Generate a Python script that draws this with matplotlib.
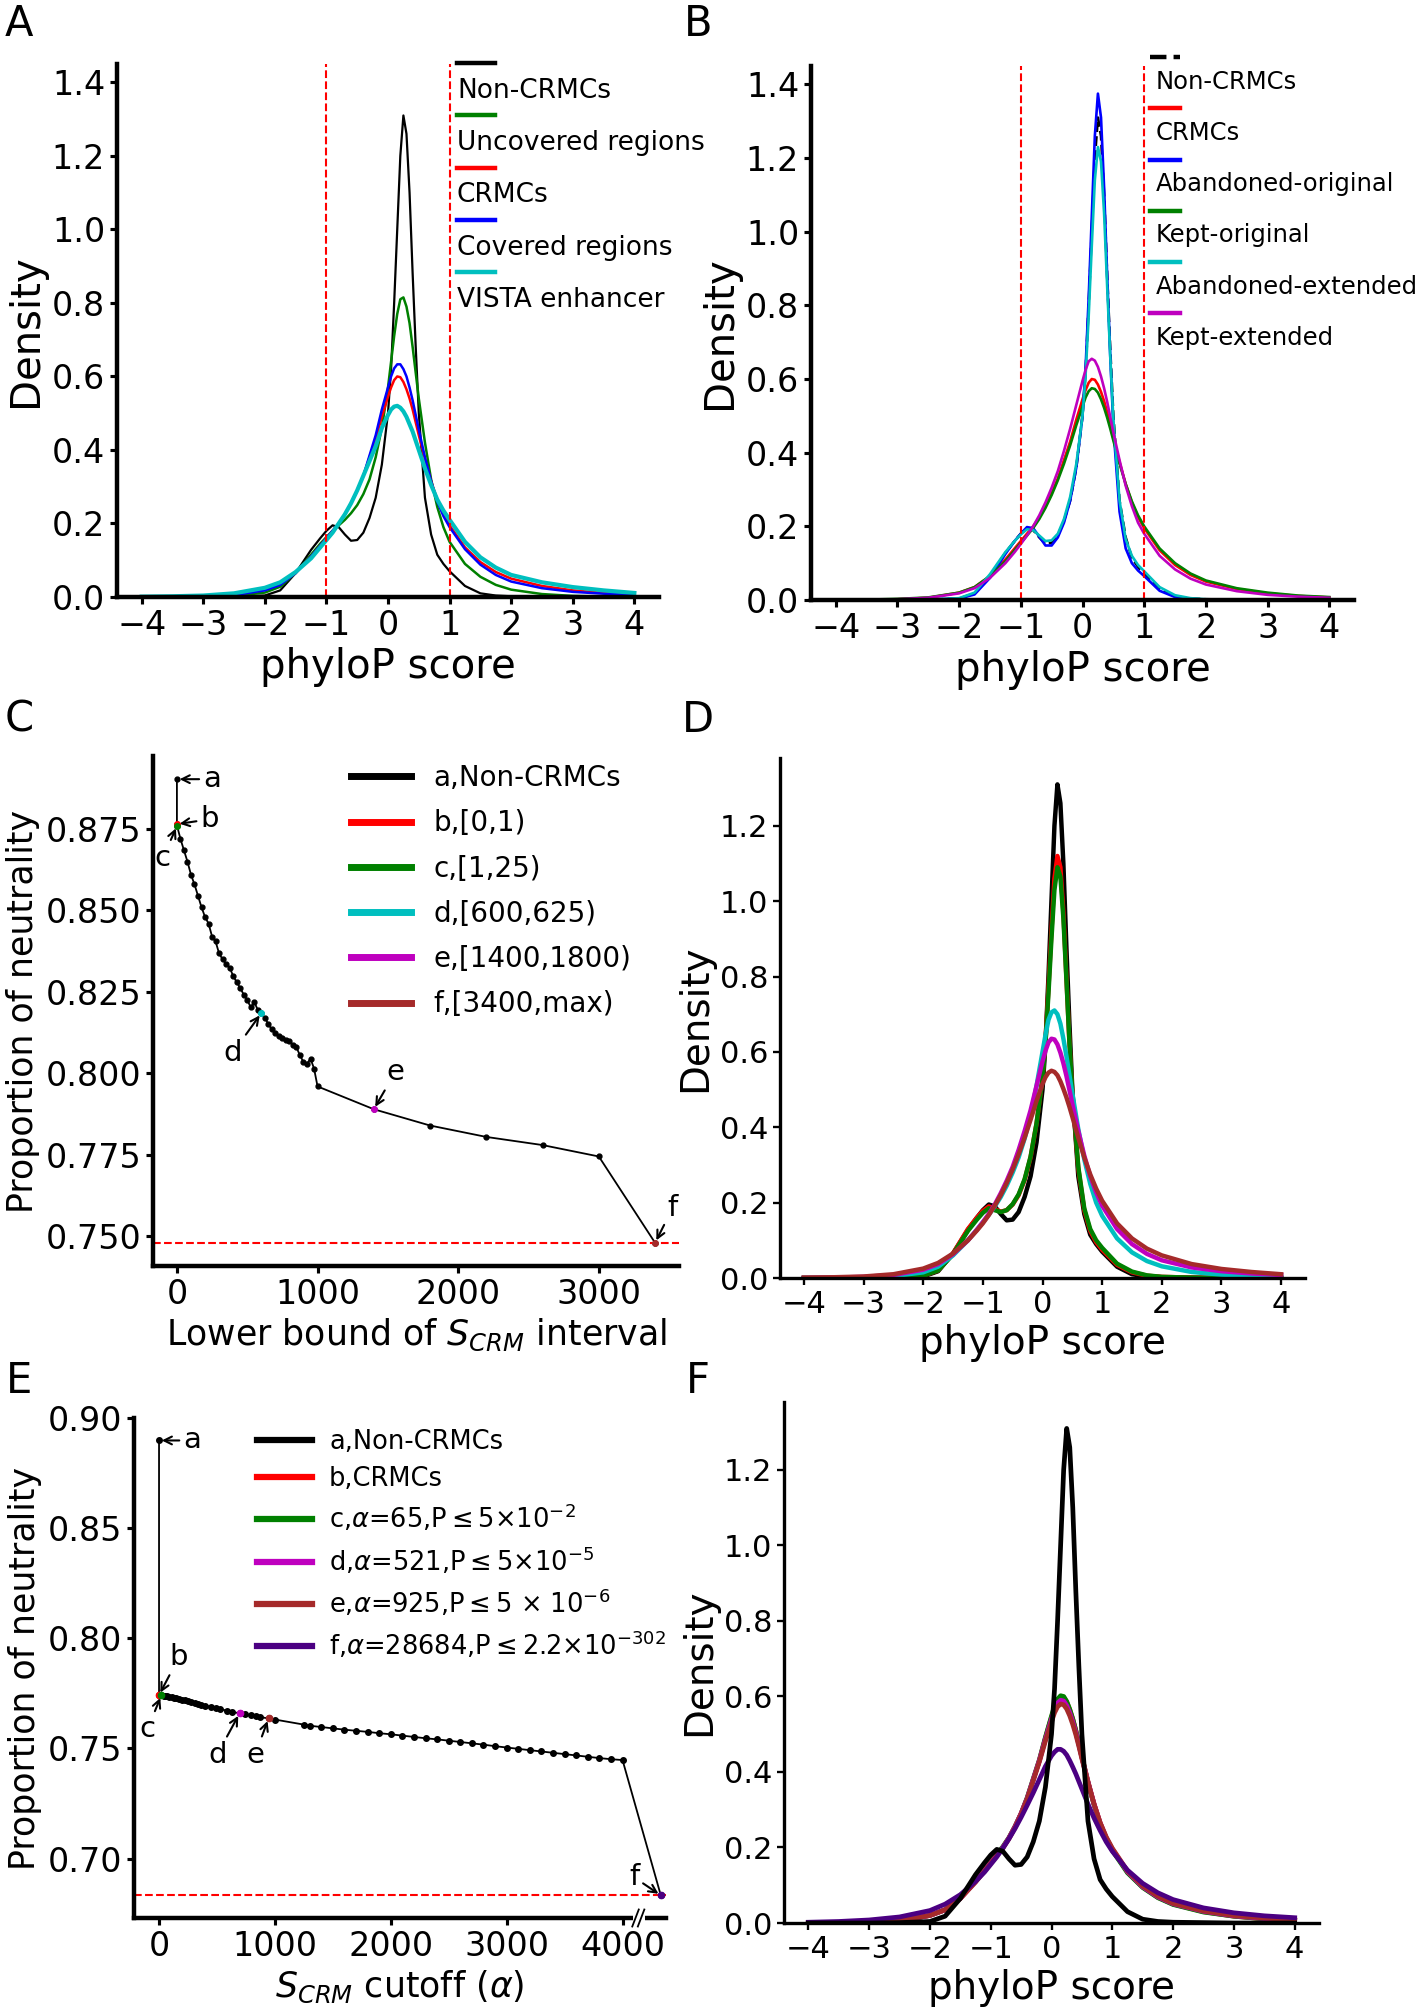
import numpy as np
import matplotlib
matplotlib.use('Agg')
import matplotlib.pyplot as plt
import matplotlib.transforms as mtransforms
from matplotlib.lines import Line2D
from matplotlib.legend_handler import HandlerLine2D

# phyloP grid shared by all density curves
phylop = [-4, -3.5, -3, -2.5, -2, -1.75, -1.5, -1.25, -1.1, -1, -0.9, -0.8, -0.7, -0.6, -0.5,
          -0.4, -0.3, -0.2, -0.1, 0, 0.05, 0.1, 0.15, 0.2, 0.25, 0.3, 0.35, 0.4, 0.45, 0.5,
          0.6, 0.7, 0.8, 0.9, 1, 1.25, 1.5, 1.75, 2, 2.5, 3, 3.5, 4]

# panel A
non_crmc = [0, 0, 0, 0.001, 0.004, 0.018, 0.065, 0.128, 0.16, 0.18, 0.195, 0.19, 0.17, 0.153, 0.155,
            0.175, 0.215, 0.27, 0.36, 0.5, 0.62, 0.8, 1.0, 1.2, 1.31, 1.26, 1.1, 0.88, 0.68, 0.5,
            0.27, 0.17, 0.115, 0.09, 0.07, 0.03, 0.01, 0.004, 0.002, 0.001, 0, 0, 0]
crmc = [0, 0.001, 0.002, 0.006, 0.02, 0.035, 0.065, 0.11, 0.14, 0.16, 0.18, 0.2, 0.225, 0.255, 0.29,
        0.33, 0.38, 0.43, 0.49, 0.545, 0.57, 0.59, 0.6, 0.598, 0.585, 0.565, 0.54, 0.51, 0.475, 0.44,
        0.375, 0.315, 0.265, 0.225, 0.195, 0.135, 0.095, 0.068, 0.05, 0.03, 0.018, 0.011, 0.007]
uncovered = [0, 0, 0.001, 0.003, 0.012, 0.028, 0.065, 0.115, 0.145, 0.163, 0.18, 0.195, 0.21, 0.228, 0.25,
             0.28, 0.32, 0.38, 0.46, 0.57, 0.64, 0.71, 0.77, 0.81, 0.815, 0.79, 0.745, 0.68, 0.61, 0.54,
             0.42, 0.32, 0.245, 0.19, 0.15, 0.09, 0.055, 0.033, 0.02, 0.008, 0.003, 0.001, 0]
covered = [0, 0.001, 0.002, 0.005, 0.018, 0.033, 0.065, 0.11, 0.14, 0.16, 0.18, 0.2, 0.225, 0.255, 0.29,
           0.33, 0.385, 0.44, 0.51, 0.57, 0.6, 0.622, 0.633, 0.633, 0.62, 0.6, 0.57, 0.535, 0.495, 0.455,
           0.38, 0.315, 0.26, 0.22, 0.19, 0.13, 0.088, 0.06, 0.042, 0.024, 0.014, 0.009, 0.006]
vista = [0.001, 0.002, 0.004, 0.01, 0.025, 0.04, 0.068, 0.105, 0.135, 0.155, 0.175, 0.2, 0.225, 0.255, 0.29,
         0.33, 0.37, 0.41, 0.46, 0.495, 0.51, 0.518, 0.52, 0.515, 0.505, 0.49, 0.47, 0.45, 0.425, 0.4,
         0.35, 0.305, 0.265, 0.235, 0.21, 0.15, 0.108, 0.08, 0.06, 0.04, 0.027, 0.018, 0.011]

# panel B
aband_orig = [0, 0, 0, 0.001, 0.004, 0.015, 0.06, 0.125, 0.16, 0.18, 0.198, 0.195, 0.172, 0.148, 0.148,
              0.17, 0.21, 0.27, 0.36, 0.5, 0.63, 0.82, 1.04, 1.26, 1.375, 1.31, 1.12, 0.88, 0.66, 0.47,
              0.24, 0.14, 0.1, 0.08, 0.065, 0.025, 0.008, 0.003, 0.001, 0, 0, 0, 0]
kept_orig = [0, 0.001, 0.003, 0.007, 0.02, 0.035, 0.065, 0.105, 0.135, 0.155, 0.175, 0.195, 0.22, 0.25, 0.285,
             0.325, 0.37, 0.42, 0.475, 0.525, 0.55, 0.567, 0.575, 0.573, 0.563, 0.545, 0.522, 0.495, 0.465, 0.433,
             0.37, 0.315, 0.268, 0.23, 0.2, 0.14, 0.1, 0.072, 0.053, 0.032, 0.02, 0.012, 0.008]
aband_ext = [0, 0, 0, 0.001, 0.005, 0.02, 0.07, 0.13, 0.16, 0.178, 0.192, 0.19, 0.175, 0.16, 0.162,
             0.18, 0.22, 0.28, 0.37, 0.5, 0.61, 0.77, 0.96, 1.14, 1.23, 1.19, 1.05, 0.85, 0.66, 0.49,
             0.27, 0.165, 0.12, 0.095, 0.078, 0.035, 0.013, 0.005, 0.002, 0.001, 0, 0, 0]
kept_ext = [0, 0.001, 0.002, 0.006, 0.018, 0.032, 0.06, 0.1, 0.13, 0.152, 0.175, 0.2, 0.23, 0.265, 0.305,
            0.35, 0.405, 0.465, 0.53, 0.595, 0.625, 0.648, 0.655, 0.65, 0.633, 0.607, 0.575, 0.538, 0.497, 0.455,
            0.38, 0.31, 0.255, 0.21, 0.18, 0.12, 0.083, 0.058, 0.042, 0.024, 0.014, 0.009, 0.006]

# panel D (S_CRM intervals)
s_0_1 = [0, 0, 0.001, 0.002, 0.006, 0.02, 0.065, 0.13, 0.16, 0.178, 0.19, 0.183, 0.176, 0.18, 0.195,
         0.22, 0.26, 0.32, 0.41, 0.53, 0.63, 0.77, 0.92, 1.06, 1.12, 1.09, 0.97, 0.8, 0.63, 0.49,
         0.29, 0.18, 0.125, 0.095, 0.075, 0.035, 0.015, 0.006, 0.003, 0.001, 0, 0, 0]
s_1_25 = [0, 0, 0.001, 0.002, 0.006, 0.02, 0.063, 0.125, 0.155, 0.173, 0.185, 0.18, 0.175, 0.18, 0.196,
          0.222, 0.262, 0.322, 0.41, 0.53, 0.625, 0.755, 0.9, 1.03, 1.09, 1.065, 0.955, 0.795, 0.63, 0.49,
          0.295, 0.185, 0.13, 0.1, 0.08, 0.038, 0.017, 0.007, 0.003, 0.001, 0, 0, 0]
s_600 = [0, 0.001, 0.002, 0.005, 0.015, 0.03, 0.06, 0.1, 0.128, 0.148, 0.168, 0.19, 0.215, 0.245, 0.28,
         0.32, 0.37, 0.43, 0.51, 0.6, 0.645, 0.685, 0.705, 0.71, 0.7, 0.675, 0.635, 0.59, 0.54, 0.49,
         0.395, 0.315, 0.25, 0.2, 0.165, 0.105, 0.068, 0.045, 0.031, 0.016, 0.009, 0.005, 0.003]
s_1400 = [0, 0.001, 0.003, 0.008, 0.022, 0.037, 0.063, 0.1, 0.128, 0.148, 0.17, 0.195, 0.225, 0.258, 0.295,
          0.34, 0.39, 0.445, 0.51, 0.575, 0.603, 0.625, 0.635, 0.633, 0.62, 0.598, 0.57, 0.537, 0.5, 0.462,
          0.39, 0.325, 0.27, 0.227, 0.192, 0.13, 0.09, 0.064, 0.047, 0.028, 0.018, 0.012, 0.008]
s_3400 = [0.001, 0.002, 0.004, 0.01, 0.025, 0.04, 0.065, 0.1, 0.126, 0.145, 0.167, 0.192, 0.22, 0.252, 0.288,
          0.328, 0.372, 0.42, 0.47, 0.515, 0.533, 0.545, 0.55, 0.547, 0.538, 0.522, 0.502, 0.48, 0.455, 0.428,
          0.372, 0.32, 0.275, 0.237, 0.205, 0.145, 0.105, 0.078, 0.06, 0.037, 0.024, 0.016, 0.01]

# panel F (S_CRM cutoffs)
cut_65 = [0, 0.001, 0.002, 0.006, 0.02, 0.035, 0.066, 0.112, 0.142, 0.162, 0.182, 0.202, 0.226, 0.256, 0.29,
          0.332, 0.382, 0.432, 0.492, 0.548, 0.575, 0.593, 0.602, 0.6, 0.587, 0.566, 0.54, 0.51, 0.475, 0.44,
          0.373, 0.313, 0.262, 0.222, 0.192, 0.133, 0.094, 0.067, 0.049, 0.029, 0.018, 0.011, 0.007]
cut_521 = [0, 0.001, 0.002, 0.006, 0.02, 0.035, 0.065, 0.11, 0.14, 0.16, 0.18, 0.2, 0.225, 0.255, 0.29,
           0.33, 0.38, 0.43, 0.487, 0.54, 0.566, 0.583, 0.59, 0.588, 0.576, 0.557, 0.533, 0.505, 0.472, 0.438,
           0.373, 0.315, 0.265, 0.226, 0.196, 0.136, 0.096, 0.069, 0.051, 0.031, 0.019, 0.012, 0.008]
cut_925 = [0, 0.001, 0.002, 0.006, 0.02, 0.035, 0.065, 0.108, 0.138, 0.158, 0.178, 0.198, 0.223, 0.253, 0.288,
           0.328, 0.377, 0.427, 0.482, 0.533, 0.557, 0.573, 0.58, 0.578, 0.567, 0.549, 0.526, 0.499, 0.468, 0.435,
           0.372, 0.315, 0.266, 0.228, 0.198, 0.138, 0.098, 0.071, 0.052, 0.032, 0.02, 0.013, 0.008]
cut_28684 = [0.002, 0.004, 0.008, 0.016, 0.033, 0.05, 0.075, 0.11, 0.135, 0.155, 0.175, 0.198, 0.223, 0.25, 0.28,
             0.312, 0.345, 0.38, 0.415, 0.443, 0.453, 0.46, 0.46, 0.455, 0.445, 0.43, 0.413, 0.395, 0.375, 0.355,
             0.315, 0.278, 0.245, 0.215, 0.19, 0.14, 0.105, 0.08, 0.062, 0.04, 0.027, 0.019, 0.014]

# panel C: lower bound of S_CRM interval vs proportion of neutrality
c_bound = [0, 0, 1, 25, 50, 75, 100, 125, 150, 175, 200, 225, 250, 275, 300, 325, 350, 375, 400, 425,
           450, 475, 500, 525, 550, 575, 600, 625, 650, 675, 700, 725, 750, 775, 800, 825, 850, 875, 900,
           925, 950, 975, 1000, 1400, 1800, 2200, 2600, 3000, 3400]
c_neutral = [0.8903, 0.8765, 0.876, 0.872, 0.8685, 0.865, 0.861, 0.858, 0.8545, 0.851, 0.848, 0.846, 0.842,
             0.8405, 0.8368, 0.835, 0.8335, 0.8325, 0.8299, 0.828, 0.8262, 0.8242, 0.8225, 0.8203, 0.8219,
             0.8195, 0.8185, 0.8171, 0.8151, 0.8135, 0.8125, 0.8115, 0.811, 0.8102, 0.8098, 0.8088, 0.808,
             0.8055, 0.8035, 0.803, 0.8045, 0.8015, 0.796, 0.789, 0.784, 0.7805, 0.778, 0.7745, 0.748]

# panel E: S_CRM cutoff vs proportion of neutrality
e_cutoff = [0, 0, 20, 40, 55, 70, 90, 110, 130, 150, 175, 200, 225, 250, 280, 310, 335, 360, 400, 445,
            490, 530, 590, 630, 695, 745, 790, 835, 875, 945, 1000, 1250, 1300, 1400, 1500, 1600, 1700,
            1800, 1900, 2000, 2100, 2200, 2300, 2400, 2500, 2600, 2700, 2800, 2900, 3000, 3100, 3200,
            3300, 3400, 3500, 3600, 3700, 3800, 3900, 4000, 4330]
e_neutral = [0.8898, 0.7742, 0.7741, 0.774, 0.7739, 0.7737, 0.7735, 0.7733, 0.773, 0.7727, 0.7724, 0.7721,
             0.7718, 0.7714, 0.771, 0.7706, 0.7703, 0.7699, 0.7694, 0.7688, 0.7683, 0.7678, 0.7671, 0.7666,
             0.7659, 0.7654, 0.765, 0.7646, 0.7642, 0.7636, 0.7631, 0.7608, 0.7603, 0.7597, 0.7591, 0.7585,
             0.758, 0.7575, 0.7569, 0.7564, 0.7558, 0.7552, 0.7546, 0.7541, 0.7535, 0.7529, 0.7523, 0.7517,
             0.751, 0.7504, 0.7498, 0.7492, 0.7486, 0.748, 0.7474, 0.7468, 0.7462, 0.7456, 0.7451, 0.7447, 0.6833]

phylop_ticks = [-4, -3, -2, -1, 0, 1, 2, 3, 4]


class RaisedHandle(HandlerLine2D):
    # legend swatch drawn above its label
    def __init__(self, lift, **kw):
        super().__init__(**kw)
        self.lift = lift

    def create_artists(self, legend, orig_handle, xdescent, ydescent, width, height, fontsize, trans):
        arts = super().create_artists(legend, orig_handle, xdescent, ydescent, width, height, fontsize, trans)
        for art in arts:
            art.set_ydata(np.asarray(art.get_ydata(), float) + self.lift * fontsize)
        return arts


W, H = 1416, 2010
fig = plt.figure(figsize=(W / 100, H / 100), dpi=100)


def add_ax(l, t, r, b):
    return fig.add_axes([l / W, 1 - b / H, (r - l) / W, (b - t) / H])


def style(ax, lw, fs):
    for s in ['top', 'right']:
        ax.spines[s].set_visible(False)
    for s in ['left', 'bottom']:
        ax.spines[s].set_linewidth(lw)
    ax.tick_params(labelsize=fs, width=lw * 0.7, length=5)


# ---------- A ----------
axA = add_ax(117, 64, 659, 597)
a_series = [(non_crmc, 'k', 'Non-CRMCs', 1.6), (uncovered, 'g', 'Uncovered regions', 1.8),
            (crmc, 'r', 'CRMCs', 1.8), (covered, 'b', 'Covered regions', 1.8),
            (vista, 'c', 'VISTA enhancer', 3.0)]
for ys, col, lab, lw in a_series:
    axA.plot(phylop, ys, color=col, lw=lw, label=lab)
axA.axvline(-1, color='r', ls='--', lw=1.5)
axA.axvline(1, color='r', ls='--', lw=1.5)
axA.set_xlim(-4.4, 4.4)
axA.set_ylim(0, 1.45)
axA.set_xticks(phylop_ticks)
axA.set_yticks(np.arange(0, 1.41, 0.2))
style(axA, 3.2, 24)
axA.set_xlabel('phyloP score', fontsize=29)
axA.set_ylabel('Density', fontsize=29)
leg = axA.legend(loc='upper left', bbox_to_anchor=(1.12, 1.413), bbox_transform=axA.transData,
                 frameon=False, fontsize=19, handlelength=1.43, handletextpad=-1.43,
                 labelspacing=1.0, borderpad=0, borderaxespad=0,
                 handler_map={Line2D: RaisedHandle(0.97)})
for h in leg.legend_handles:
    h.set_linewidth(3.2)

# ---------- B ----------
axB = add_ax(811, 66, 1354, 600)
b_series = [(non_crmc, 'k', '--', 'Non-CRMCs'), (crmc, 'r', '-', 'CRMCs'),
            (aband_orig, 'b', '-', 'Abandoned-original'), (kept_orig, 'g', '-', 'Kept-original'),
            (aband_ext, 'c', '-', 'Abandoned-extended'), (kept_ext, 'm', '-', 'Kept-extended')]
for ys, col, ls, lab in b_series:
    axB.plot(phylop, ys, color=col, ls=ls, lw=1.9, label=lab)
axB.axvline(-1, color='r', ls='--', lw=1.5)
axB.axvline(1, color='r', ls='--', lw=1.5)
axB.set_xlim(-4.4, 4.4)
axB.set_ylim(0, 1.45)
axB.set_xticks(phylop_ticks)
axB.set_yticks(np.arange(0, 1.41, 0.2))
style(axB, 3.2, 24)
axB.set_xlabel('phyloP score', fontsize=29)
axB.set_ylabel('Density', fontsize=29)
leg = axB.legend(loc='upper left', bbox_to_anchor=(1.09, 1.44), bbox_transform=axB.transData,
                 frameon=False, fontsize=17.5, handlelength=1.25, handletextpad=-1.0,
                 labelspacing=1.12, borderpad=0, borderaxespad=0,
                 handler_map={Line2D: RaisedHandle(0.95)})
for h in leg.legend_handles:
    h.set_linewidth(3.2)

# ---------- C ----------
axC = add_ax(153, 756, 679, 1266)
axC.plot(c_bound, c_neutral, '-o', color='k', lw=1.3, ms=3.5)
i_d = c_bound.index(600)
i_e = c_bound.index(1400)
for i, col in [(1, 'r'), (2, 'g'), (i_d, 'c'), (i_e, 'm'), (len(c_bound) - 1, 'brown')]:
    axC.plot(c_bound[i], c_neutral[i], 'o', color=col, ms=4, zorder=4)
axC.axhline(c_neutral[-1], color='r', ls='--', lw=1.5)
axC.set_xticks([0, 1000, 2000, 3000])
axC.set_yticks([0.75, 0.775, 0.8, 0.825, 0.85, 0.875])
style(axC, 3.2, 24)
axC.set_xlabel('Lower bound of $S_{CRM}$ interval', fontsize=25)
axC.set_ylabel('Proportion of neutrality', fontsize=25)
arr = dict(arrowstyle='->', color='k', lw=1.5, shrinkA=1, shrinkB=2, mutation_scale=14)
annC = [('a', 0, (251, 0.8903)), ('b', 1, (234, 0.8780)), ('c', 2, (-100, 0.8661)),
        ('d', i_d, (399, 0.8064)), ('e', i_e, (1552, 0.8003)), ('f', len(c_bound) - 1, (3525, 0.7587))]
for txt, i, pos in annC:
    axC.annotate(txt, xy=(c_bound[i], c_neutral[i]), xytext=pos, fontsize=21,
                 ha='center', va='center', arrowprops=arr)
c_handles = [Line2D([], [], color=c, lw=5) for c in ['k', 'r', 'g', 'c', 'm', 'brown']]
c_labels = ['a,Non-CRMCs', 'b,[0,1)', 'c,[1,25)', 'd,[600,625)', 'e,[1400,1800)', 'f,[3400,max)']
axC.legend(c_handles, c_labels, loc='upper left', bbox_to_anchor=(1237, 0.8949),
           bbox_transform=axC.transData, frameon=False, fontsize=20, handlelength=2.16,
           handletextpad=0.8, labelspacing=0.62, borderpad=0, borderaxespad=0)

# ---------- D ----------
axD = add_ax(780, 758, 1305, 1278)
d_series = [(non_crmc, 'k'), (s_0_1, 'r'), (s_1_25, 'g'), (s_600, 'c'), (s_1400, 'm'), (s_3400, 'brown')]
for ys, col in d_series:
    axD.plot(phylop, ys, color=col, lw=3.2)
axD.set_xlim(-4.4, 4.4)
axD.set_ylim(0, 1.38)
axD.set_xticks(phylop_ticks)
axD.set_yticks(np.arange(0, 1.21, 0.2))
style(axD, 2.4, 22)
axD.set_xlabel('phyloP score', fontsize=28)
axD.set_ylabel('Density', fontsize=28)

# ---------- E ----------
axE = add_ax(134, 1418, 666, 1918)
axE.plot(e_cutoff, e_neutral, '-o', color='k', lw=1.3, ms=4)
j_d = e_cutoff.index(695)
j_e = e_cutoff.index(945)
for i, col in [(1, 'r'), (2, 'g'), (j_d, 'm'), (j_e, 'brown'), (len(e_cutoff) - 1, 'indigo')]:
    axE.plot(e_cutoff[i], e_neutral[i], 'o', color=col, ms=4.5, zorder=4)
axE.axhline(e_neutral[-1], color='r', ls='--', lw=1.5)
axE.set_xlim(-216, 4375)
axE.set_ylim(0.673, 0.9)
axE.set_xticks([0, 1000, 2000, 3000, 4000])
axE.set_yticks([0.70, 0.75, 0.80, 0.85, 0.90])
style(axE, 3.2, 24)
axE.set_xlabel('$S_{CRM}$ cutoff ($\\alpha$)', fontsize=25)
axE.set_ylabel('Proportion of neutrality', fontsize=25)
annE = [('a', 0, (288, 0.8898)), ('b', 1, (172, 0.7914)), ('c', 2, (-99, 0.7587)),
        ('d', j_d, (502, 0.7472)), ('e', j_e, (830, 0.7472)), ('f', len(e_cutoff) - 1, (4099, 0.6915))]
for txt, i, pos in annE:
    axE.annotate(txt, xy=(e_cutoff[i], e_neutral[i]), xytext=pos, fontsize=21,
                 ha='center', va='center', arrowprops=arr)
# axis break marks
bt = mtransforms.blended_transform_factory(axE.transData, axE.transAxes)
axE.plot([4112, 4160], [0, 0], color='white', lw=5, transform=bt, clip_on=False, zorder=5)
for xb in [4112, 4160]:
    axE.plot([xb - 28, xb + 28], [-0.017, 0.017], color='k', lw=1.3, transform=bt, clip_on=False, zorder=6)
e_handles = [Line2D([], [], color=c, lw=4.5) for c in ['k', 'r', 'g', 'm', 'brown', 'indigo']]
e_labels = ['a,Non-CRMCs', 'b,CRMCs',
            'c,$\\alpha$=65,P$\\leq$5$\\times$10$^{-2}$',
            'd,$\\alpha$=521,P$\\leq$5$\\times$10$^{-5}$',
            'e,$\\alpha$=925,P$\\leq$5 $\\times$ 10$^{-6}$',
            'f,$\\alpha$=28684,P$\\leq$2.2$\\times$10$^{-302}$']
axE.legend(e_handles, e_labels, loc='upper left', bbox_to_anchor=(847, 0.8949),
           bbox_transform=axE.transData, frameon=False, fontsize=18.5, handlelength=2.15,
           handletextpad=0.65, labelspacing=0.42, borderpad=0, borderaxespad=0)

# ---------- F ----------
axF = add_ax(784, 1402, 1319, 1923)
f_series = [(crmc, 'r'), (cut_65, 'g'), (cut_521, 'm'), (cut_925, 'brown'), (cut_28684, 'indigo'),
            (non_crmc, 'k')]
for ys, col in f_series:
    axF.plot(phylop, ys, color=col, lw=3.4)
axF.set_xlim(-4.4, 4.4)
axF.set_ylim(0, 1.38)
axF.set_xticks(phylop_ticks)
axF.set_yticks(np.arange(0, 1.21, 0.2))
style(axF, 2.4, 22)
axF.set_xlabel('phyloP score', fontsize=28)
axF.set_ylabel('Density', fontsize=28)

# panel letters
for letter, x, y in [('A', 19, 24), ('B', 698, 24), ('C', 19, 720), ('D', 698, 720),
                     ('E', 19, 1381), ('F', 698, 1381)]:
    fig.text(x / W, 1 - y / H, letter, fontsize=30, ha='center', va='center')

fig.savefig('out.png', dpi=100)
